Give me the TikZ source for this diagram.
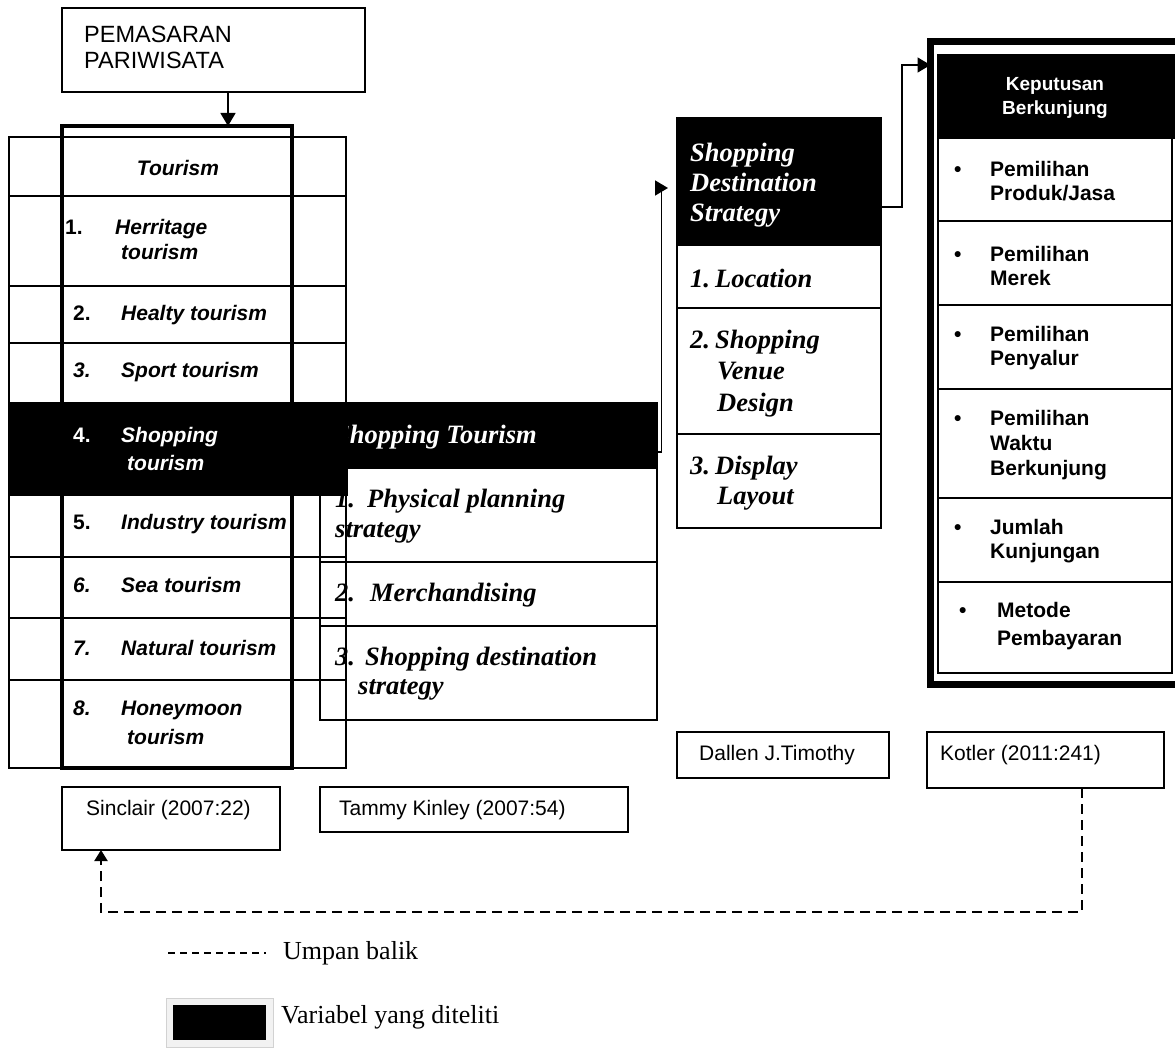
\documentclass[tikz,border=0pt]{standalone}
\usepackage{fontspec}
\setmainfont{Liberation Sans}
\newfontfamily\pwserif{Liberation Serif}
\usepackage{tikz}
\usetikzlibrary{arrows.meta,positioning,calc}
\newcommand{\pwsize}[2]{\fontsize{#1}{#2}\selectfont}
\tikzset{
pwcell/.style={rectangle,draw,line width=1.5pt,inner sep=0pt,outer sep=0pt,anchor=north west},
pwdark/.style={pwcell,fill=black},
pwcol/.style={pwcell,line width=3.5pt},
pwframe/.style={pwcell,line width=7pt},
pwcite/.style={pwcell,line width=1.3pt},
pwsans/.style={font=\pwsize{21}{25}\bfseries\itshape,anchor=west,inner sep=0pt,align=left},
pwtimes/.style={font=\pwserif\pwsize{26.5}{30}\bfseries\itshape,anchor=west,inner sep=0pt,align=left},
pwlist/.style={font=\pwsize{21}{24}\bfseries,anchor=west,inner sep=0pt,align=left},
pwref/.style={font=\pwsize{21}{24},anchor=west,inner sep=0pt},
pwlegend/.style={font=\pwserif\pwsize{26}{30},anchor=west,inner sep=0pt},
pwwhite/.style={text=white},
pwarr/.style={-{Triangle[length=13pt,width=15pt]},line width=1.5pt},
pwfeed/.style={-{Triangle[length=11pt,width=13pt]},line width=2.2pt,dash pattern=on 10pt off 6pt},
pwdash/.style={line width=1.3pt,dash pattern=on 7pt off 5pt}
}

\begin{document}
\begin{tikzpicture}[x=1pt,y=-1pt]
\path[use as bounding box] (0,0) rectangle (1175,1048);
\clip (0,0) rectangle (1175,1048);
% shopping tourism
\node[pwdark,minimum width=337pt,minimum height=65pt] (sthead) at (320,403) {};
\node[pwcell,minimum width=337pt,minimum height=94pt] (st1) at (320,468) {};
\node[pwcell,minimum width=337pt,minimum height=64pt] (st2) at (320,562) {};
\node[pwcell,minimum width=337pt,minimum height=94pt] (st3) at (320,626) {};
\node[pwtimes,pwwhite] (sthtxt) at (335,437) {Shopping Tourism};
\node[pwtimes] (st1txt) at (335,516.5) {\makebox[32pt][l]{1.}Physical planning\\strategy};
\node[pwtimes] (st2txt) at (335,595) {\makebox[35pt][l]{2.}Merchandising};
\node[pwtimes] (st3txt) at (335,674) {\makebox[30pt][l]{3.}Shopping destination\\[-1pt]\hspace*{23pt}strategy};
% tourism table
\node[pwcell,minimum width=337pt,minimum height=59pt] (tr0) at (9,137) {};
\node[pwcell,minimum width=337pt,minimum height=90pt] (tr1) at (9,196) {};
\node[pwcell,minimum width=337pt,minimum height=57pt] (tr2) at (9,286) {};
\node[pwcell,minimum width=337pt,minimum height=60pt] (tr3) at (9,343) {};
\node[pwdark,minimum width=338pt,minimum height=92pt] (tr4) at (9,403) {};
\node[pwcell,minimum width=337pt,minimum height=62pt] (tr5) at (9,495) {};
\node[pwcell,minimum width=337pt,minimum height=61pt] (tr6) at (9,557) {};
\node[pwcell,minimum width=337pt,minimum height=62pt] (tr7) at (9,618) {};
\node[pwcell,minimum width=337pt,minimum height=88pt] (tr8) at (9,680) {};
\node[pwcol,minimum width=230pt,minimum height=642pt] (tourcol) at (62,126) {};
\node[pwsans,anchor=center] (tourtxt) at (178,168) {Tourism};
\node[pwsans] (tt1) at (65,239.5) {\makebox[50pt][l]{\upshape 1.}Herritage\\\hspace*{56pt}tourism};
\node[pwsans] (tt2) at (73,315) {\makebox[48pt][l]{\upshape 2.}Healty tourism};
\node[pwsans] (tt3) at (73,372) {\makebox[48pt][l]{3.}Sport tourism};
\node[pwsans,pwwhite] (tt4) at (73,449) {\makebox[48pt][l]{\upshape 4.}Shopping\\[3pt]\hspace*{54pt}tourism};
\node[pwsans] (tt5) at (73,524) {\makebox[48pt][l]{\upshape 5.}Industry tourism};
\node[pwsans] (tt6) at (73,585) {\makebox[48pt][l]{6.}Sea tourism};
\node[pwsans] (tt7) at (73,648) {\makebox[48pt][l]{7.}Natural tourism};
\node[pwsans] (tt8) at (73,722.5) {\makebox[48pt][l]{8.}Honeymoon\\[4pt]\hspace*{54pt}tourism};
% pemasaran
\node[pwcell,minimum width=303pt,minimum height=84pt] (pemasaran) at (62,8) {};
\node[font=\pwsize{23.5}{26},anchor=west,align=left,inner sep=0pt] (pemtxt) at (84,47) {PEMASARAN\\PARIWISATA};
% shopping destination strategy
\node[pwdark,minimum width=204pt,minimum height=127pt] (sdshead) at (677,118) {};
\node[pwcell,minimum width=204pt,minimum height=63pt] (sds1) at (677,245) {};
\node[pwcell,minimum width=204pt,minimum height=126pt] (sds2) at (677,308) {};
\node[pwcell,minimum width=204pt,minimum height=94pt] (sds3) at (677,434) {};
\node[pwtimes,pwwhite] (sdshtxt) at (690,185) {Shopping\\Destination\\Strategy};
\node[pwtimes] (sds1txt) at (690,278) {\makebox[25pt][l]{1.}Location};
\node[pwtimes] (sds2txt) at (690,373.5) {\makebox[25pt][l]{2.}Shopping\\[1.5pt]\hspace*{27pt}Venue\\[1.5pt]\hspace*{27pt}Design};
\node[pwtimes] (sds3txt) at (690,483) {\makebox[25pt][l]{3.}Display\\\hspace*{27pt}Layout};
% keputusan berkunjung
\node[pwframe,minimum width=249.5pt,minimum height=643pt] (kepout) at (930.5,41.5) {};
\node[pwdark,minimum width=240pt,minimum height=83pt] (kephead) at (938,55) {};
\node[pwcell,minimum width=234pt,minimum height=83pt] (kr1) at (938,138) {};
\node[pwcell,minimum width=234pt,minimum height=84pt] (kr2) at (938,221) {};
\node[pwcell,minimum width=234pt,minimum height=84pt] (kr3) at (938,305) {};
\node[pwcell,minimum width=234pt,minimum height=109pt] (kr4) at (938,389) {};
\node[pwcell,minimum width=234pt,minimum height=84pt] (kr5) at (938,498) {};
\node[pwcell,minimum width=234pt,minimum height=91pt] (kr6) at (938,582) {};
\node[pwlist,pwwhite,anchor=center,align=center,font=\pwsize{19}{24}\bfseries] (kephtxt) at (1055,98) {Keputusan\\Berkunjung};
\node[pwlist] (k1txt) at (954,181.5) {\makebox[36pt][l]{\textbullet}Pemilihan\\\hspace*{36pt}Produk/Jasa};
\node[pwlist] (k2txt) at (954,265.5) {\makebox[36pt][l]{\textbullet}Pemilihan\\\hspace*{36pt}Merek};
\node[pwlist] (k3txt) at (954,348.5) {\makebox[36pt][l]{\textbullet}Pemilihan\\\hspace*{36pt}Penyalur};
\node[pwlist] (k4txt) at (954,445) {\makebox[36pt][l]{\textbullet}Pemilihan\\[1pt]\hspace*{36pt}Waktu\\[1pt]\hspace*{36pt}Berkunjung};
\node[pwlist] (k5txt) at (954,541.5) {\makebox[36pt][l]{\textbullet}Jumlah\\\hspace*{36pt}Kunjungan};
\node[pwlist] (k6txt) at (959,626) {\makebox[38pt][l]{\textbullet}Metode\\[4pt]\hspace*{38pt}Pembayaran};
% references
\node[pwcite,minimum width=218pt,minimum height=63pt] (sinclair) at (62,787) {};
\node[pwref] (sinctxt) at (86,810) {Sinclair (2007:22)};
\node[pwcite,minimum width=308pt,minimum height=45pt] (tammy) at (320,787) {};
\node[pwref] (tamtxt) at (339,810) {Tammy Kinley (2007:54)};
\node[pwcite,minimum width=212pt,minimum height=46pt] (dallen) at (677,732) {};
\node[pwref] (daltxt) at (699,755) {Dallen J.Timothy};
\node[pwcite,minimum width=237pt,minimum height=56pt] (kotler) at (927,732) {};
\node[pwref] (kottxt) at (940,755) {Kotler (2011:241)};
% legend
\coordinate (lgA) at (168,953);
\coordinate (lgB) at (266,953);
\node[pwcell,draw=gray!35,fill=gray!10,line width=1pt,minimum width=107pt,minimum height=49pt] (lgframe) at (166,998) {};
\node[pwcell,fill=black,minimum width=91pt,minimum height=33pt] (lgblack) at (174,1006) {};
\node[pwlegend] (lgfeed) at (283,953) {Umpan balik};
\node[pwlegend] (lgvar) at (281,1017) {Variabel yang diteliti};
% connectors
\draw[pwarr] ([xshift=14.5pt]pemasaran.south) -- ([xshift=14.5pt]pemasaran.south |- tourcol.north);
\draw[pwarr] ([yshift=-16.5pt]sthead.east) -- ++(4.5,0) |- ([xshift=-9pt,yshift=-6.5pt]sdshead.west);
\draw[pwarr] ([yshift=-25.5pt]sdshead.east) -- ++(21,0) |- ([yshift=-23.5pt]kepout.north west);
\draw[pwfeed] ([xshift=36.5pt]kotler.south) -- ++(0,124) -| ([xshift=-70pt]sinclair.south);
\draw[pwdash] (lgA) -- (lgB);
\end{tikzpicture}
\end{document}
